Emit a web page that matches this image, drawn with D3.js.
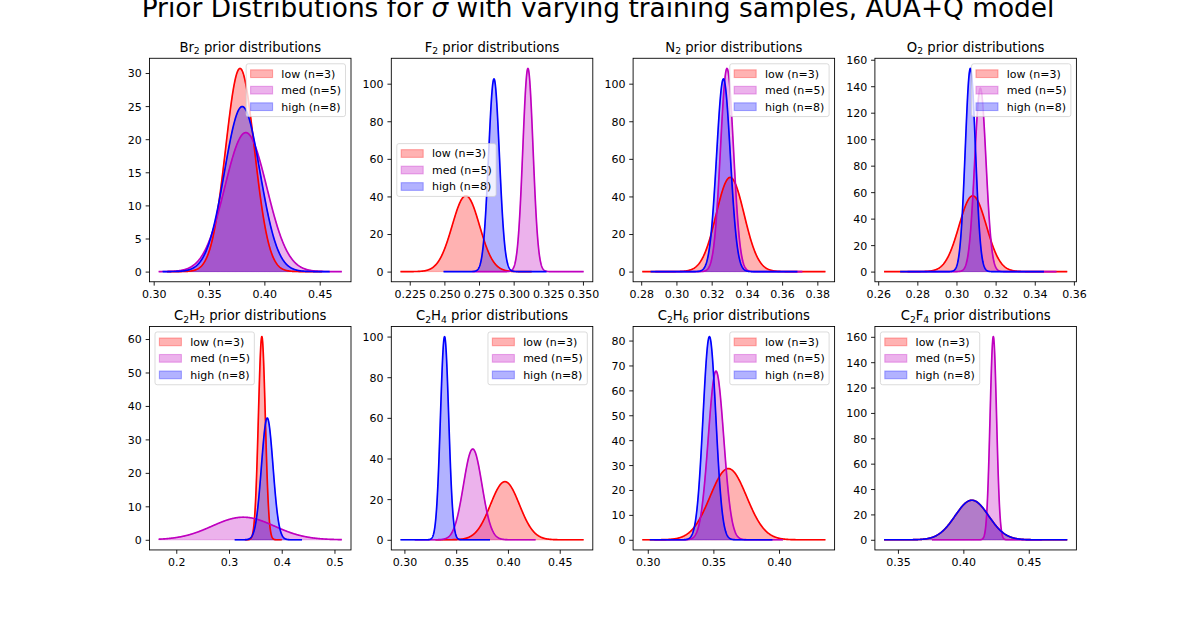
<!DOCTYPE html>
<html>
<head>
<meta charset="utf-8">
<script src="https://cdn.jsdelivr.net/npm/d3@7"></script>
<style>
body { margin: 0; background: #fff; }
svg text { font-family: "DejaVu Sans", sans-serif; white-space: pre; }
</style>
</head>
<body>
<div id="chart"></div>
<script>
// one panel per molecule ("_2" marks a subscript)
var molecules = ["Br_2", "F_2", "N_2", "O_2", "C_2H_2", "C_2H_4", "C_2H_6", "C_2F_4"];
var seriesLabels = ["low (n=3)", "med (n=5)", "high (n=8)"];

// prior mean, sd and plotted x-range of each curve
var lowMean = [0.378, 0.2655, 0.3305, 0.3083, 0.3623, 0.3971, 0.3614, 0.4065];
var lowSd   = [0.0130, 0.00988, 0.00796, 0.00697, 0.00657, 0.01395, 0.01395, 0.01279];
var lowFrom = [0.312, 0.2183, 0.2806, 0.2630, 0.330, 0.330, 0.2958, 0.3394];
var lowTo   = [0.452, 0.313, 0.3846, 0.3566, 0.400, 0.4731, 0.4354, 0.4794];

var medMean = [0.3832, 0.3103, 0.3287, 0.3122, 0.327, 0.366, 0.352, 0.4229];
var medSd   = [0.0190, 0.00369, 0.00369, 0.00288, 0.0591, 0.00893, 0.00589, 0.00249];
var medFrom = [0.3045, 0.270, 0.288, 0.275, 0.1666, 0.310, 0.305, 0.376];
var medTo   = [0.470, 0.3505, 0.3715, 0.3511, 0.514, 0.4267, 0.403, 0.460];

var highMean = [0.380, 0.2858, 0.3267, 0.3071, 0.3725, 0.3388, 0.347, 0.4065];
var highSd   = [0.0160, 0.00389, 0.00389, 0.00260, 0.01096, 0.00399, 0.00489, 0.01279];
var highFrom = [0.308, 0.2494, 0.2853, 0.2712, 0.3108, 0.2962, 0.3015, 0.3394];
var highTo   = [0.459, 0.3237, 0.3687, 0.3447, 0.4385, 0.3827, 0.395, 0.4794];

var xTickLabels = [
    ["0.30", "0.35", "0.40", "0.45"],
    ["0.225", "0.250", "0.275", "0.300", "0.325", "0.350"],
    ["0.28", "0.30", "0.32", "0.34", "0.36", "0.38"],
    ["0.26", "0.28", "0.30", "0.32", "0.34", "0.36"],
    ["0.2", "0.3", "0.4", "0.5"],
    ["0.30", "0.35", "0.40", "0.45"],
    ["0.30", "0.35", "0.40"],
    ["0.35", "0.40", "0.45"]
];
var yTickLabels = [
    ["0", "5", "10", "15", "20", "25", "30"],
    ["0", "20", "40", "60", "80", "100"],
    ["0", "20", "40", "60", "80", "100"],
    ["0", "20", "40", "60", "80", "100", "120", "140", "160"],
    ["0", "10", "20", "30", "40", "50", "60"],
    ["0", "20", "40", "60", "80", "100"],
    ["0", "10", "20", "30", "40", "50", "60", "70", "80"],
    ["0", "20", "40", "60", "80", "100", "120", "140", "160"]
];
var legendLoc = ["upper right", "center left", "upper right", "upper right",
                 "upper left", "upper right", "upper right", "upper left"];

var colors = ["#ff0000", "#bf00bf", "#0000ff"];

var W = 1196, H = 620;
var F = 11;          // 10pt text
var lw = 0.88;       // 0.8pt axis lines
var sp = {left: 0.125, right: 0.9, top: 0.906, bottom: 0.113, wspace: 0.2, hspace: 0.2};
var axW = (sp.right - sp.left) * W / (4 + 3 * sp.wspace);
var axH = (sp.top - sp.bottom) * H / (2 + sp.hspace);

function pdf(x, mu, sd) {
    var z = (x - mu) / sd;
    return Math.exp(-0.5 * z * z) / (sd * Math.sqrt(2 * Math.PI));
}

// writes "C_2H_4"-style names as text with subscripts
function addFormula(sel, name, size) {
    var parts = name.split(/_(\d)/);
    var shift = size * 0.2;
    var down = false;
    parts.forEach(function(p, k) {
        if (p === "") return;
        var t = sel.append("tspan").text(p);
        if (k % 2 === 1) {
            t.attr("font-size", size * 0.7).attr("dy", down ? 0 : shift);
            down = true;
        } else {
            if (down) t.attr("dy", -shift);
            down = false;
        }
    });
    return down;
}

var svg = d3.select("#chart").append("svg")
    .attr("width", W)
    .attr("height", H);

svg.append("rect").attr("width", W).attr("height", H).attr("fill", "#fff");

var sup = svg.append("text")
    .attr("x", W / 2)
    .attr("y", 17)
    .attr("text-anchor", "middle")
    .attr("font-size", 26.4)
    .attr("fill", "#000");
sup.append("tspan").text("Prior Distributions for ");
sup.append("tspan").attr("font-style", "italic").text("σ");
sup.append("tspan").text(" with varying training samples, AUA+Q model");

molecules.forEach(function(mol, i) {
    var col = i % 4, row = Math.floor(i / 4);
    var x0 = sp.left * W + col * axW * (1 + sp.wspace);
    var y0 = (1 - sp.top) * H + row * axH * (1 + sp.hspace);

    var series = [
        {mean: lowMean[i], sd: lowSd[i], from: lowFrom[i], to: lowTo[i]},
        {mean: medMean[i], sd: medSd[i], from: medFrom[i], to: medTo[i]},
        {mean: highMean[i], sd: highSd[i], from: highFrom[i], to: highTo[i]}
    ];
    var N = 500;
    series.forEach(function(s) {
        s.pts = d3.range(N).map(function(j) {
            var x = s.from + (s.to - s.from) * j / (N - 1);
            return [x, pdf(x, s.mean, s.sd)];
        });
    });

    var xmin = d3.min(series, function(s) { return s.from; });
    var xmax = d3.max(series, function(s) { return s.to; });
    var ymax = d3.max(series, function(s) { return d3.max(s.pts, function(d) { return d[1]; }); });
    var dx = (xmax - xmin) * 0.05;

    var x = d3.scaleLinear().domain([xmin - dx, xmax + dx]).range([0, axW]);
    var y = d3.scaleLinear().domain([-0.05 * ymax, 1.05 * ymax]).range([axH, 0]);

    var g = svg.append("g").attr("transform", "translate(" + x0 + "," + y0 + ")");

    var area = d3.area()
        .x(function(d) { return x(d[0]); })
        .y0(y(0))
        .y1(function(d) { return y(d[1]); });
    var line = d3.line()
        .x(function(d) { return x(d[0]); })
        .y(function(d) { return y(d[1]); });

    // fills sit under all lines, as in matplotlib
    series.forEach(function(s, k) {
        g.append("path")
            .attr("d", area(s.pts))
            .attr("fill", colors[k])
            .attr("fill-opacity", 0.3)
            .attr("stroke", colors[k])
            .attr("stroke-opacity", 0.3)
            .attr("stroke-width", 1);
    });
    series.forEach(function(s, k) {
        g.append("path")
            .attr("d", line(s.pts))
            .attr("fill", "none")
            .attr("stroke", colors[k])
            .attr("stroke-width", 1.65)
            .attr("stroke-linejoin", "round");
    });

    var xt = xTickLabels[i], yt = yTickLabels[i];
    var xAxis = g.append("g")
        .attr("transform", "translate(0," + axH + ")")
        .call(d3.axisBottom(x)
            .tickValues(xt.map(Number))
            .tickFormat(function(d, k) { return xt[k]; })
            .tickSize(3.85)
            .tickPadding(3.85));
    var yAxis = g.append("g")
        .call(d3.axisLeft(y)
            .tickValues(yt.map(Number))
            .tickFormat(function(d, k) { return yt[k]; })
            .tickSize(3.85)
            .tickPadding(3.85));
    [xAxis, yAxis].forEach(function(a) {
        a.attr("font-size", F).attr("font-family", "DejaVu Sans");
        a.select(".domain").remove();
        a.selectAll(".tick line").attr("stroke", "#000").attr("stroke-width", lw);
        a.selectAll(".tick text").attr("fill", "#000");
    });
    xAxis.selectAll(".tick text").attr("dy", "0.8em");
    yAxis.selectAll(".tick text").attr("dy", "0.36em");

    g.append("rect")
        .attr("width", axW)
        .attr("height", axH)
        .attr("fill", "none")
        .attr("stroke", "#000")
        .attr("stroke-width", lw);

    var title = g.append("text")
        .attr("x", axW / 2)
        .attr("y", -6.6)
        .attr("text-anchor", "middle")
        .attr("font-size", 13.2)
        .attr("fill", "#000");
    var wasDown = addFormula(title, mol, 13.2);
    title.append("tspan").attr("dy", wasDown ? -13.2 * 0.2 : 0).text(" prior distributions");

    // legend
    var pad = 0.4 * F, rowH = F, gapR = 0.5 * F, hLen = 2 * F, hPad = 0.8 * F;
    var lg = g.append("g");
    var box = lg.append("rect");
    var texts = seriesLabels.map(function(lab) {
        return lg.append("text").attr("font-size", F).attr("fill", "#000").text(lab);
    });
    var tw = d3.max(texts, function(t) { return t.node().getComputedTextLength(); });
    var lW = 2 * pad + hLen + hPad + tw;
    var lH = 2 * pad + 3 * rowH + 2 * gapR;
    var lx, ly;
    if (legendLoc[i] === "upper right") { lx = axW - 0.5 * F - lW; ly = 0.5 * F; }
    else if (legendLoc[i] === "upper left") { lx = 0.5 * F; ly = 0.5 * F; }
    else { lx = 0.5 * F; ly = axH / 2 - lH / 2; }
    lg.attr("transform", "translate(" + lx + "," + ly + ")");
    box.attr("width", lW).attr("height", lH)
        .attr("rx", 0.2 * F).attr("ry", 0.2 * F)
        .attr("fill", "#fff").attr("fill-opacity", 0.8)
        .attr("stroke", "#cccccc").attr("stroke-opacity", 0.8)
        .attr("stroke-width", lw);
    seriesLabels.forEach(function(lab, k) {
        var cy = pad + rowH / 2 + k * (rowH + gapR);
        lg.append("rect")
            .attr("x", pad).attr("y", cy - 0.35 * F)
            .attr("width", hLen).attr("height", 0.7 * F)
            .attr("fill", colors[k]).attr("fill-opacity", 0.3)
            .attr("stroke", colors[k]).attr("stroke-opacity", 0.3)
            .attr("stroke-width", 1.1);
        texts[k].attr("x", pad + hLen + hPad).attr("y", cy + 0.35 * F);
    });
});
</script>
</body>
</html>
